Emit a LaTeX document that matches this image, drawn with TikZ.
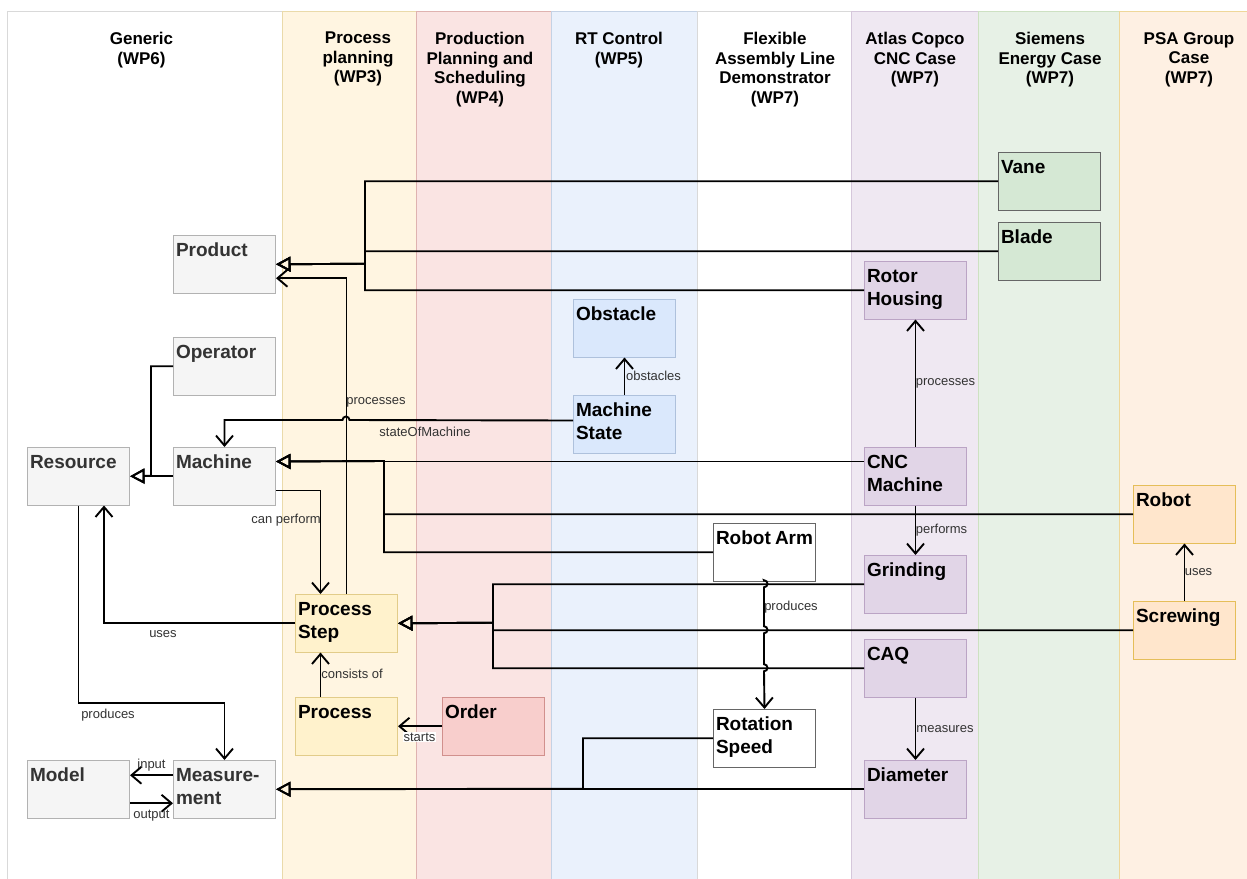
\documentclass[tikz,border=0pt]{standalone}
\usepackage{fontspec}
\setmainfont{Liberation Sans}
\usetikzlibrary{arrows.meta}

% lane fills and borders
\definecolor{laneGen}{HTML}{FFFFFF}
\definecolor{lanePP}{HTML}{FFF5E1}
\definecolor{lanePPS}{HTML}{FAE4E3}
\definecolor{laneRT}{HTML}{EAF1FC}
\definecolor{laneAC}{HTML}{EFE8F2}
\definecolor{laneSE}{HTML}{E7F1E6}
\definecolor{lanePSA}{HTML}{FEF0E3}
\definecolor{bYel}{HTML}{D6B656}
\definecolor{bRed}{HTML}{B85450}
\definecolor{bBlue}{HTML}{6C8EBF}
\definecolor{bPur}{HTML}{9673A6}
\definecolor{bGrn}{HTML}{82B366}
\definecolor{bOra}{HTML}{D79B00}
% box fills
\definecolor{fGray}{HTML}{F5F5F5}
\definecolor{fYel}{HTML}{FFF2CC}
\definecolor{fRed}{HTML}{F8CECC}
\definecolor{fBlue}{HTML}{DAE8FC}
\definecolor{fPur}{HTML}{E1D5E7}
\definecolor{fGrn}{HTML}{D5E8D4}
\definecolor{fOra}{HTML}{FFE6CC}
\definecolor{txtGray}{HTML}{333333}

% top-left aligned box text
\newcommand\bxt[1]{\parbox[t][57.5pt][t]{97pt}{\raggedright\rule{0pt}{21pt}#1}}

\tikzset{
  lane/.style={line width=0.8pt},
  lanehead/.style={anchor=north, inner sep=0pt, align=center,
    font=\fontsize{17}{19.5}\selectfont\bfseries},
  box/.style={draw, rectangle, anchor=north west, inner xsep=2.5pt, inner ysep=0pt,
    minimum width=102pt, minimum height=57.5pt, line width=1pt,
    font=\fontsize{19}{22.5}\selectfont\bfseries},
  gbox/.style={box, fill=fGray, draw=black!30, text=txtGray},
  ybox/.style={box, fill=fYel, draw=bYel!70!white},
  rbox/.style={box, fill=fRed, draw=bRed!65!white},
  bbox/.style={box, fill=fBlue, draw=bBlue!55!white},
  pbox/.style={box, fill=fPur, draw=bPur!65!white},
  grbox/.style={box, fill=fGrn, draw=black!60},
  obox/.style={box, fill=fOra, draw=bOra!65!white},
  wbox/.style={box, fill=white, draw=black!60},
  conn/.style={line width=1.9pt, black},
  assoc/.style={conn, -{Straight Barb[length=10pt,width=17pt]}},
  gen/.style={conn, -{Triangle[open,length=14.5pt,width=15pt]}},
  elabel/.style={inner sep=0pt, text=txtGray, font=\fontsize{13}{15}\selectfont},
}

\begin{document}
\begin{tikzpicture}[x=1pt,y=1pt]
\useasboundingbox[fill=white] (0,0) rectangle (1247,-878);

% swimlanes
\draw[lane, fill=laneGen, draw=black!15] (7,-11) rectangle (282.5,-880);
\draw[lane, fill=lanePP, draw=bYel!50!white] (282.5,-11) rectangle (416,-880);
\draw[lane, fill=lanePPS, draw=bRed!45!white] (416,-11) rectangle (551,-880);
\draw[lane, fill=laneRT, draw=bBlue!40!white] (551,-11) rectangle (697.5,-880);
\draw[lane, fill=white, draw=black!15] (697.5,-11) rectangle (851.5,-880);
\draw[lane, fill=laneAC, draw=bPur!40!white] (851.5,-11) rectangle (978.5,-880);
\draw[lane, fill=laneSE, draw=bGrn!40!white] (978.5,-11) rectangle (1119.5,-880);
\draw[lane, fill=lanePSA, draw=bOra!40!white] (1119.5,-11) rectangle (1252,-880);

% lane headers
\node[lanehead] (hGen) at (141.5,-32) {Generic\\(WP6)};
\node[lanehead] (hPP) at (358,-32) {Process\\planning\\(WP3)};
\node[lanehead] (hPPS) at (480,-32) {Production\\Planning and\\Scheduling\\(WP4)};
\node[lanehead] (hRT) at (619,-32) {RT Control\\(WP5)};
\node[lanehead] (hFAL) at (775,-32) {Flexible\\Assembly Line\\Demonstrator\\(WP7)};
\node[lanehead] (hAC) at (915,-32) {Atlas Copco\\CNC Case\\(WP7)};
\node[lanehead] (hSE) at (1050,-32) {Siemens\\Energy Case\\(WP7)};
\node[lanehead] (hPSA) at (1189,-32) {PSA Group\\Case\\(WP7)};

% generic classes
\node[gbox] (product) at (173,-235) {\bxt{Product}};
\node[gbox] (operator) at (173,-337) {\bxt{Operator}};
\node[gbox] (resource) at (27,-447) {\bxt{Resource}};
\node[gbox] (machine) at (173,-447) {\bxt{Machine}};
\node[gbox] (model) at (27,-760) {\bxt{Model}};
\node[gbox] (meas) at (173,-760) {\bxt{Measure-\\ment}};

% process planning / scheduling
\node[ybox] (ps) at (295,-594) {\bxt{Process\\Step}};
\node[ybox] (process) at (295,-697) {\bxt{Process}};
\node[rbox] (order) at (442,-697) {\bxt{Order}};

% RT control
\node[bbox] (obstacle) at (573,-299) {\bxt{Obstacle}};
\node[bbox] (ms) at (573,-395) {\bxt{Machine\\State}};

% flexible assembly line
\node[wbox] (ra) at (713,-523) {\bxt{Robot~Arm}};
\node[wbox] (rot) at (713,-709) {\bxt{Rotation\\Speed}};

% Atlas Copco
\node[pbox] (rotor) at (864,-261) {\bxt{Rotor\\Housing}};
\node[pbox] (cnc) at (864,-447) {\bxt{CNC\\Machine}};
\node[pbox] (grinding) at (864,-555) {\bxt{Grinding}};
\node[pbox] (caq) at (864,-639) {\bxt{CAQ}};
\node[pbox] (diameter) at (864,-760) {\bxt{Diameter}};

% Siemens Energy
\node[grbox] (vane) at (998,-152) {\bxt{Vane}};
\node[grbox] (blade) at (998,-222) {\bxt{Blade}};

% PSA Group
\node[obox] (robot) at (1133,-485) {\bxt{Robot}};
\node[obox] (screwing) at (1133,-601) {\bxt{Screwing}};

% generalisations towards Product
\draw[gen] (vane.west) -| (365,-263.75) -- (product.east);
\draw[gen] (blade.west) -| (365,-263.75) -- (product.east);
\draw[gen] (rotor.west) -| (365,-263.75) -- (product.east);

% generalisations towards Machine
\draw[gen] ([yshift=14.75pt]cnc.west) -- ([yshift=14.75pt]machine.east);
\draw[gen] (ra.west) -| (384,-461) -- ([yshift=14.75pt]machine.east);
\draw[gen] (robot.west) -| (384,-461) -- ([yshift=14.75pt]machine.east);

% generalisations towards Resource
\draw[gen] (operator.west) -| (151,-475.75) -- (resource.east);
\draw[gen] (machine.west) -- (resource.east);

% generalisations towards Process Step
\draw[gen] (grinding.west) -| (493,-622.75) -- (ps.east);
\draw[gen] (caq.west) -| (493,-622.75) -- (ps.east);
\draw[gen] (screwing.west) -| (493,-622.75) -- (ps.east);

% generalisations towards Measurement
\draw[gen] (rot.west) -| (583,-788.75) -- (meas.east);
\draw[gen] (diameter.west) -- (meas.east);

% associations
\draw[assoc] (ps.north) |- ([yshift=-14pt]product.east);
\draw[assoc] ([yshift=3.75pt]ms.west) -- (349.5,-420)
  arc[start angle=0, end angle=180, radius=3.5pt] -| (machine.north);
\draw[assoc] (ms.north) -- (obstacle.south);
\draw[assoc] (cnc.north) -- (rotor.south);
\draw[assoc] (cnc.south) -- (grinding.north);
\draw[assoc] ([yshift=-14.25pt]machine.east) -| ([xshift=-26pt]ps.north);
\draw[assoc] (ps.west) -| ([xshift=25.5pt]resource.south);
\draw[assoc] (resource.south) |- (130,-703) -| (meas.north);
\draw[assoc] ([yshift=14pt]meas.west) -- ([yshift=14pt]model.east);
\draw[assoc] ([yshift=-14pt]model.east) -- ([yshift=-14pt]meas.west);
\draw[assoc] (ra.south) -- (764,-580.25)
  arc[start angle=90, end angle=-90, radius=3.5pt] -- (764,-626.25)
  arc[start angle=90, end angle=-90, radius=3.5pt] -- (764,-664.25)
  arc[start angle=90, end angle=-90, radius=3.5pt] -- (rot.north);
\draw[assoc] (caq.south) -- (diameter.north);
\draw[assoc] ([xshift=-26pt]process.north) -- ([xshift=-26pt]ps.south);
\draw[assoc] (screwing.north) -- (robot.south);
\draw[assoc] (order.west) -- (process.east);

% connector labels
\node[elabel] (lProc1) at (376,-402) {processes};
\node[elabel] (lState) at (425,-432) {stateOfMachine};
\node[elabel] (lObst) at (653.5,-376) {obstacles};
\node[elabel] (lProc2) at (945.5,-383) {processes};
\node[elabel] (lPerf) at (941.5,-530) {performs};
\node[elabel] (lCan) at (286,-520) {can perform};
\node[elabel] (lUses1) at (163,-634) {uses};
\node[elabel] (lProd1) at (108,-715) {produces};
\node[elabel] (lIn) at (151.5,-765) {input};
\node[elabel] (lOut) at (151.5,-816) {output};
\node[elabel] (lProd2) at (791,-607) {produces};
\node[elabel] (lMeas) at (945,-729) {measures};
\node[elabel, fill=white, inner sep=1pt] (lStarts) at (419.5,-737) {starts};
\node[elabel] (lCons) at (352,-674) {consists of};
\node[elabel] (lUses2) at (1198.5,-572) {uses};
\end{tikzpicture}
\end{document}
